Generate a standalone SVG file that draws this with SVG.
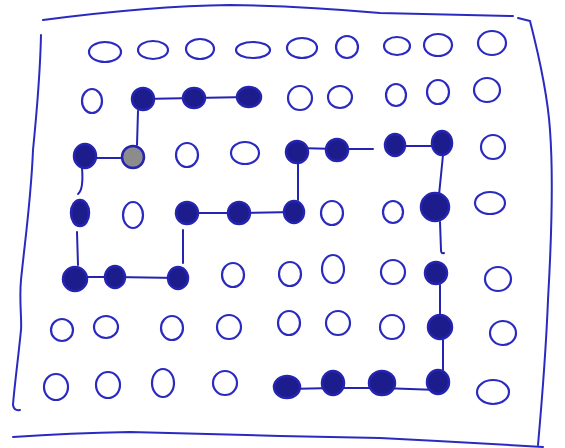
<svg xmlns="http://www.w3.org/2000/svg" width="565" height="448" viewBox="0 0 565 448">
<style>
.frame{fill:none;stroke:#2a2ac0;stroke-width:2;stroke-linecap:round;stroke-linejoin:round}
.open{fill:none;stroke:#2a2ac0;stroke-width:2.2}
.dot{fill:#1c1c8c;stroke:#2424b0;stroke-width:2.5}
.grey{fill:#8c8c8c;stroke:#2424b0;stroke-width:2.5}
.link{fill:none;stroke:#2424b0;stroke-width:2;stroke-linecap:round}
</style>
<rect width="565" height="448" fill="#ffffff"/>
<g id="frame">
<path class="frame" d="M43,20 Q150,6 230,5 Q300,6 380,13 L513,16"/>
<path class="frame" d="M518,18 L530,21 C540,60 548,100 550,130 C553,170 552,230 548,300 C546,350 542,400 538,445"/>
<path class="frame" d="M41,35 C40,80 36,120 33,150 C31,200 25,240 21,280 C19,300 22,320 21,330 C18,360 14,390 13,405 Q14,411 20,410"/>
<path class="frame" d="M13,437 Q70,433 130,432 Q200,434 280,436 L380,438 Q460,442 543,447"/>
</g>
<g id="connectors">
<path class="link" d="M143,99 L194,98 L249,97"/>
<path class="link" d="M138,111 L137,145"/>
<path class="link" d="M85,158 L133,158"/>
<path class="link" d="M82,168 C83,180 83,190 78,194"/>
<path class="link" d="M77,232 L78,265"/>
<path class="link" d="M75,277 L115,277 L178,278"/>
<path class="link" d="M183,230 L183,263"/>
<path class="link" d="M187,213 L239,213 L294,212"/>
<path class="link" d="M298,200 L298,163"/>
<path class="link" d="M297,148 L337,149 L373,149"/>
<path class="link" d="M395,146 L442,146"/>
<path class="link" d="M443,155 L439,195"/>
<path class="link" d="M440,222 L441,250 Q441,254 444,253"/>
<path class="link" d="M440,285 L440,314"/>
<path class="link" d="M443,340 L443,370"/>
<path class="link" d="M288,389 L333,388 L382,388 L438,390"/>
</g>
<g id="row1">
<ellipse id="n1-1" class="open" cx="105" cy="52" rx="16" ry="10"/>
<ellipse id="n1-2" class="open" cx="153" cy="50" rx="15" ry="9"/>
<ellipse id="n1-3" class="open" cx="200" cy="49" rx="14" ry="10"/>
<ellipse id="n1-4" class="open" cx="253" cy="50" rx="17" ry="8"/>
<ellipse id="n1-5" class="open" cx="302" cy="48" rx="15" ry="10"/>
<ellipse id="n1-6" class="open" cx="347" cy="47" rx="11" ry="11"/>
<ellipse id="n1-7" class="open" cx="397" cy="46" rx="13" ry="9"/>
<ellipse id="n1-8" class="open" cx="438" cy="45" rx="14" ry="11"/>
<ellipse id="n1-9" class="open" cx="492" cy="43" rx="14" ry="12"/>
</g>
<g id="row2">
<ellipse id="n2-1" class="open" cx="92" cy="101" rx="10" ry="12"/>
<ellipse id="n2-2" class="dot" cx="143" cy="99" rx="11" ry="11"/>
<ellipse id="n2-3" class="dot" cx="194" cy="98" rx="11" ry="10"/>
<ellipse id="n2-4" class="dot" cx="249" cy="97" rx="12" ry="10"/>
<ellipse id="n2-5" class="open" cx="300" cy="98" rx="12" ry="12"/>
<ellipse id="n2-6" class="open" cx="340" cy="97" rx="12" ry="11"/>
<ellipse id="n2-7" class="open" cx="396" cy="95" rx="10" ry="11"/>
<ellipse id="n2-8" class="open" cx="438" cy="92" rx="11" ry="12"/>
<ellipse id="n2-9" class="open" cx="487" cy="90" rx="13" ry="12"/>
</g>
<g id="row3">
<ellipse id="n3-1" class="dot" cx="85" cy="156" rx="11" ry="12"/>
<ellipse id="n3-2" class="grey" cx="133" cy="157" rx="11" ry="11"/>
<ellipse id="n3-3" class="open" cx="187" cy="155" rx="11" ry="12"/>
<ellipse id="n3-4" class="open" cx="245" cy="153" rx="14" ry="11"/>
<ellipse id="n3-5" class="dot" cx="297" cy="152" rx="11" ry="11"/>
<ellipse id="n3-6" class="dot" cx="337" cy="150" rx="11" ry="11"/>
<ellipse id="n3-7" class="dot" cx="395" cy="145" rx="10" ry="11"/>
<ellipse id="n3-8" class="dot" cx="442" cy="143" rx="10" ry="12"/>
<ellipse id="n3-9" class="open" cx="493" cy="147" rx="12" ry="12"/>
</g>
<g id="row4">
<ellipse id="n4-1" class="dot" cx="80" cy="213" rx="9" ry="13"/>
<ellipse id="n4-2" class="open" cx="133" cy="215" rx="10" ry="13"/>
<ellipse id="n4-3" class="dot" cx="187" cy="213" rx="11" ry="11"/>
<ellipse id="n4-4" class="dot" cx="239" cy="213" rx="11" ry="11"/>
<ellipse id="n4-5" class="dot" cx="294" cy="212" rx="10" ry="11"/>
<ellipse id="n4-6" class="open" cx="332" cy="213" rx="11" ry="12"/>
<ellipse id="n4-7" class="open" cx="393" cy="212" rx="10" ry="11"/>
<ellipse id="n4-8" class="dot" cx="435" cy="207" rx="14" ry="14"/>
<ellipse id="n4-9" class="open" cx="490" cy="203" rx="15" ry="11"/>
</g>
<g id="row5">
<ellipse id="n5-1" class="dot" cx="75" cy="279" rx="12" ry="12"/>
<ellipse id="n5-2" class="dot" cx="115" cy="277" rx="10" ry="11"/>
<ellipse id="n5-3" class="dot" cx="178" cy="278" rx="10" ry="11"/>
<ellipse id="n5-4" class="open" cx="233" cy="275" rx="11" ry="12"/>
<ellipse id="n5-5" class="open" cx="290" cy="274" rx="11" ry="12"/>
<ellipse id="n5-6" class="open" cx="333" cy="269" rx="11" ry="14"/>
<ellipse id="n5-7" class="open" cx="393" cy="272" rx="12" ry="12"/>
<ellipse id="n5-8" class="dot" cx="436" cy="273" rx="11" ry="11"/>
<ellipse id="n5-9" class="open" cx="498" cy="279" rx="13" ry="12"/>
</g>
<g id="row6">
<ellipse id="n6-1" class="open" cx="62" cy="330" rx="11" ry="11"/>
<ellipse id="n6-2" class="open" cx="106" cy="327" rx="12" ry="11"/>
<ellipse id="n6-3" class="open" cx="172" cy="328" rx="11" ry="12"/>
<ellipse id="n6-4" class="open" cx="229" cy="327" rx="12" ry="12"/>
<ellipse id="n6-5" class="open" cx="289" cy="323" rx="11" ry="12"/>
<ellipse id="n6-6" class="open" cx="338" cy="323" rx="12" ry="12"/>
<ellipse id="n6-7" class="open" cx="392" cy="327" rx="12" ry="12"/>
<ellipse id="n6-8" class="dot" cx="440" cy="327" rx="12" ry="12"/>
<ellipse id="n6-9" class="open" cx="503" cy="333" rx="13" ry="12"/>
</g>
<g id="row7">
<ellipse id="n7-1" class="open" cx="56" cy="387" rx="12" ry="13"/>
<ellipse id="n7-2" class="open" cx="108" cy="385" rx="12" ry="13"/>
<ellipse id="n7-3" class="open" cx="163" cy="383" rx="11" ry="14"/>
<ellipse id="n7-4" class="open" cx="225" cy="383" rx="12" ry="12"/>
<ellipse id="n7-5" class="dot" cx="287" cy="387" rx="13" ry="11"/>
<ellipse id="n7-6" class="dot" cx="333" cy="383" rx="11" ry="12"/>
<ellipse id="n7-7" class="dot" cx="382" cy="383" rx="13" ry="12"/>
<ellipse id="n7-8" class="dot" cx="438" cy="382" rx="11" ry="12"/>
<ellipse id="n7-9" class="open" cx="493" cy="392" rx="16" ry="12"/>
</g>
</svg>
